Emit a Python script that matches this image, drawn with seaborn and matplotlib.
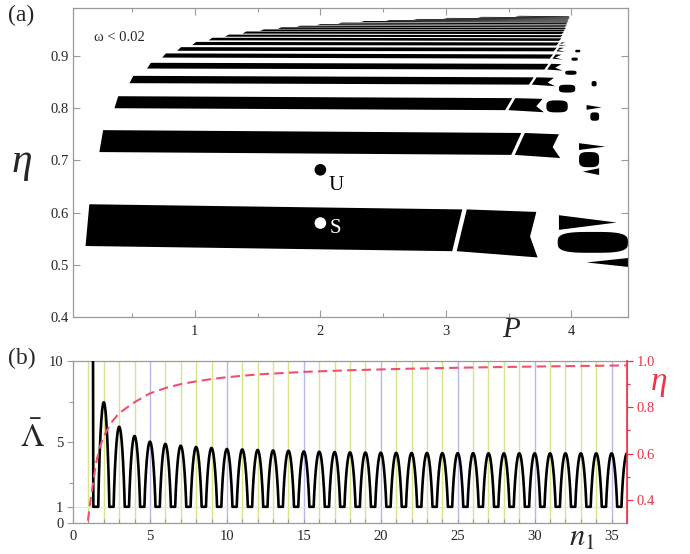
import numpy as np
import pandas as pd
import matplotlib
matplotlib.use("Agg")
import matplotlib.pyplot as plt
import seaborn as sns

# ---------------- panel (a) data: stability bands in the (P, eta) plane ----------------
band_p_left = [0.13, 0.24, 0.36, 0.48, 0.62, 0.74, 0.86, 0.98, 1.11, 1.24, 1.38,
               1.52, 1.66, 1.81, 1.97, 2.14, 2.32, 2.52, 2.74, 2.98, 3.25, 3.55]
band_eta_top = [0.616, 0.758, 0.823, 0.862, 0.887, 0.905, 0.917, 0.927, 0.935, 0.941, 0.947,
                0.951, 0.955, 0.958, 0.961, 0.964, 0.967, 0.969, 0.971, 0.973, 0.975, 0.977]
band_eta_bot = [0.536, 0.716, 0.800, 0.848, 0.876, 0.897, 0.910, 0.921, 0.930, 0.937, 0.943,
                0.948, 0.952, 0.956, 0.959, 0.962, 0.965, 0.9675, 0.9695, 0.9715, 0.9735, 0.9755]
band_drop = [0.012, 0.006, 0.004, 0.003, 0.002, 0.002, 0.001, 0.001, 0.001, 0.001, 0.001,
             0.001, 0.001, 0.001, 0.001, 0.001, 0.001, 0.001, 0.001, 0.001, 0.001, 0.001]
band_p_crack = [3.09, 3.56, 3.50, 3.68, 3.80, 3.84, 3.87, 3.89, 3.91, 3.92, 3.93,
                3.94, 3.95, 3.95, 3.96, 3.96, 3.97, 3.97, 3.97, 3.98, 3.98, 3.98]
band_p_end = [3.72, 3.90, 3.77, 3.86, 3.92, 3.92, 3.94, 3.95, 3.91, 3.92, 3.93,
              3.94, 3.95, 3.95, 3.96, 3.96, 3.97, 3.97, 3.97, 3.98, 3.98, 3.98]

# isolated fragments beyond the band ends
tail_kind = ["wedge_r", "blob", "wedge_l", "wedge_r", "blob", "wedge_l",
             "blob", "wedge_r", "blob", "blob", "blob", "blob", "blob", "blob"]
tail_p0 = [3.90, 3.89, 4.12, 4.06, 4.06, 4.09, 3.80, 4.12, 4.15, 3.90, 4.16, 3.95, 4.00, 4.03]
tail_p1 = [4.36, 4.45, 4.45, 4.27, 4.22, 4.22, 3.97, 4.24, 4.22, 4.03, 4.20, 4.04, 4.05, 4.07]
tail_top = [0.595, 0.563, 0.513, 0.733, 0.716, 0.685, 0.815, 0.806, 0.792, 0.845, 0.852, 0.872,
            0.897, 0.912]
tail_bot = [0.567, 0.523, 0.496, 0.720, 0.687, 0.672, 0.792, 0.797, 0.776, 0.830, 0.842, 0.864,
            0.891, 0.907]

point_p = [2.0, 2.0]
point_eta = [0.682, 0.580]
point_name = ["U", "S"]

# ---------------- panel (b) data ----------------
spike_n = 1.30
spike_lambda = 10.3
peak_n = list(range(2, 37))
peak_lambda = [7.45, 5.94, 5.37, 5.02, 4.88, 4.77, 4.69, 4.63, 4.57, 4.54,
               4.51, 4.48, 4.46, 4.42, 4.40, 4.38, 4.36, 4.35, 4.34, 4.33,
               4.32, 4.32, 4.31, 4.31, 4.31, 4.30, 4.30, 4.30, 4.30, 4.30,
               4.30, 4.30, 4.30, 4.30, 4.30]
eta_n = [0.97, 1.1, 1.25, 1.5, 1.75, 2.0, 2.5, 3.0, 4.0, 5.0, 6.0, 7.0, 8.0, 9.0,
         10.0, 12.0, 15.0, 18.0, 22.0, 26.0, 30.0, 36.0]
eta_val = [0.31, 0.38, 0.45, 0.56, 0.63, 0.675, 0.735, 0.775, 0.822, 0.86, 0.883, 0.90,
           0.912, 0.922, 0.93, 0.942, 0.953, 0.96, 0.967, 0.972, 0.976, 0.981]

# ---------------- style ----------------
sns.set_style("ticks")
plt.rcParams["font.family"] = ["Liberation Serif", "DejaVu Serif"]
plt.rcParams["mathtext.fontset"] = "stix"

W, H = 690, 554
fig = plt.figure(figsize=(W / 100, H / 100), dpi=100)
ax_a = fig.add_axes([73 / W, 1 - 317 / H, (628 - 73) / W, (317 - 8) / H])
ax_b = fig.add_axes([73 / W, 1 - 523 / H, (627 - 73) / W, (523 - 361) / H])

GRAY = "#9a9a9a"
RED = "#ee3344"

# ---------- panel (a) ----------
ax_a.set_xlim(0.03, 4.45)
ax_a.set_ylim(0.4, 0.992)


def lerp_drop(p, p0, p1, d):
    return d * (p - p0) / max(p1 - p0, 1e-6)


for i in range(len(band_p_left)):
    pl, top, bot, d = band_p_left[i], band_eta_top[i], band_eta_bot[i], band_drop[i]
    pc, pe = band_p_crack[i], band_p_end[i]
    th = top - bot
    slant = min(0.04, th + 0.005)
    # main body
    xs = [pl + 0.03, pc + slant, pc - slant, pl]
    ys = [top, top - lerp_drop(pc, pl, pe, d), bot - lerp_drop(pc, pl, pe, d), bot]
    ax_a.fill(xs, ys, color="black", lw=0, zorder=2)
    # second piece after the crack
    if pe > pc + 0.02:
        g = 0.02 + 0.2 * th
        t0 = top - lerp_drop(pc, pl, pe, d)
        b0 = bot - lerp_drop(pc, pl, pe, d)
        xs = [pc + slant + g, pe, pe - 0.05, pe + 0.01, pc - slant + g]
        ys = [t0, t0 - 0.06 * th, (t0 + b0) / 2 - d, b0 - d, b0]
        ax_a.fill(xs, ys, color="black", lw=0, zorder=2)

for kind, p0, p1, t, b in zip(tail_kind, tail_p0, tail_p1, tail_top, tail_bot):
    if kind == "wedge_r":
        xs, ys = [p0, p1, p0], [t, (t + b) / 2, b]
    elif kind == "wedge_l":
        xs, ys = [p1, p0, p1], [t, (t + b) / 2, b]
    else:
        s = np.linspace(0, 2 * np.pi, 60)
        cx, cy = (p0 + p1) / 2, (t + b) / 2
        rx, ry = (p1 - p0) / 2, (t - b) / 2
        xs = cx + rx * np.sign(np.cos(s)) * np.abs(np.cos(s)) ** 0.6
        ys = cy + ry * np.sign(np.sin(s)) * np.abs(np.sin(s)) ** 0.6
    ax_a.fill(xs, ys, color="black", lw=0, zorder=2)

pts = pd.DataFrame({"P": point_p, "eta": point_eta, "name": point_name})
sns.scatterplot(data=pts, x="P", y="eta", hue="name", palette={"U": "black", "S": "white"},
                s=70, edgecolor="none", legend=False, ax=ax_a, zorder=4)
label_offsets = {"U": (6, -11), "S": (7, -4)}
for p, e, nm in zip(point_p, point_eta, point_name):
    ax_a.annotate(nm, (p, e), xytext=label_offsets[nm], textcoords="offset points",
                  fontsize=15, color="black" if nm == "U" else "white",
                  ha="left", va="center", zorder=5)

ax_a.text(0.2, 0.936, "ω < 0.02", fontsize=10.5, ha="left", va="center")

ax_a.set_xticks([1, 2, 3, 4])
ax_a.set_xticks([0.5, 1.5, 2.5, 3.5], minor=True)
ax_a.set_yticks([0.4, 0.5, 0.6, 0.7, 0.8, 0.9])
ax_a.set_yticklabels(["0.4", "0.5", "0.6", "0.7", "0.8", "0.9"])
ax_a.tick_params(which="both", direction="in", top=True, right=True, color=GRAY,
                 labelsize=10.5, width=0.8)
ax_a.tick_params(which="major", length=5)
ax_a.tick_params(which="minor", length=3)
ax_a.tick_params(axis="x", pad=6)
ax_a.tick_params(axis="y", pad=3)
for s in ax_a.spines.values():
    s.set_color(GRAY)
    s.set_linewidth(0.9)
ax_a.set_xlabel("")
ax_a.set_ylabel("")

fig.text(22 / W, 1 - 162 / H, "η", fontsize=30, style="italic", ha="center", va="center")
fig.text(511 / W, 1 - 330 / H, "P", fontsize=21, style="italic", ha="center", va="center")
fig.text(8 / W, 1 - 15 / H, "(a)", fontsize=17, ha="left", va="center")
fig.text(8 / W, 1 - 358 / H, "(b)", fontsize=17, ha="left", va="center")

# ---------- panel (b) ----------
ax_b.set_xlim(0, 36)
ax_b.set_ylim(0, 10)
for k in range(1, 36):
    ax_b.axvline(k, color="#b8b8e8" if k % 5 == 0 else "#d8e48c", lw=1.0, zorder=0)
ax_b.axhline(1, color="#e4e4e4", lw=0.8, zorder=0)

xs = [spike_n, spike_n + 0.02]
ys = [spike_lambda, 1.0]
for k, h in zip(peak_n, peak_lambda):
    t = np.linspace(-1, 1, 41)
    xs += list(k + 0.36 * t)
    ys += list(1 + (h - 1) * (1 - t ** 2) ** 0.85)
curve = pd.DataFrame({"n1": xs, "Lambda": ys})
sns.lineplot(data=curve, x="n1", y="Lambda", sort=False, estimator=None, color="black",
             lw=1.9, ax=ax_b, zorder=3)

ax_b.set_xticks(range(0, 36, 5))
ax_b.set_xticks(range(0, 37), minor=True)
ax_b.set_yticks([0, 1, 5, 10])
ax_b.set_yticks([2.5, 7.5], minor=True)
ax_b.tick_params(which="both", color=GRAY, labelsize=10.5, width=0.8, right=False)
ax_b.tick_params(axis="x", which="both", direction="in", length=3, pad=5)
ax_b.tick_params(axis="y", which="major", direction="out", length=4, pad=3)
ax_b.tick_params(axis="y", which="minor", direction="out", length=3)
for s in ax_b.spines.values():
    s.set_color(GRAY)
    s.set_linewidth(0.9)
ax_b.set_xlabel("")
ax_b.set_ylabel("")

ax_r = ax_b.twinx()
ax_r.set_ylim(0.3, 1.0)
eta_df = pd.DataFrame({"n1": eta_n, "eta": eta_val})
sns.lineplot(data=eta_df, x="n1", y="eta", color="#f0506e", lw=1.5, ax=ax_r, zorder=4)
ax_r.lines[-1].set_dashes((4.5, 2.5))
ax_r.set_xlim(0, 36)
ax_r.set_yticks([0.4, 0.6, 0.8, 1.0])
ax_r.set_yticklabels(["0.4", "0.6", "0.8", "1.0"])
ax_r.set_yticks([0.5, 0.7, 0.9], minor=True)
ax_r.tick_params(axis="y", which="both", colors=RED, labelsize=10.5, direction="out",
                 width=0.9, pad=3)
ax_r.tick_params(axis="y", which="major", length=4)
ax_r.tick_params(axis="y", which="minor", length=2.5)
for nm, s in ax_r.spines.items():
    s.set_visible(nm == "right")
ax_r.spines["right"].set_color(RED)
ax_r.spines["right"].set_linewidth(1.2)
ax_r.set_ylabel("")
ax_r.set_xlabel("")

fig.text(32 / W, 1 - 438 / H, r"$\bar{\Lambda}$", fontsize=24, ha="center", va="center")
fig.text(659 / W, 1 - 382 / H, "η", fontsize=24, style="italic", color=RED,
         ha="center", va="center")
fig.text(582 / W, 1 - 538 / H, r"$n_1$", fontsize=22, ha="center", va="center")

fig.savefig("out.png", dpi=100)
